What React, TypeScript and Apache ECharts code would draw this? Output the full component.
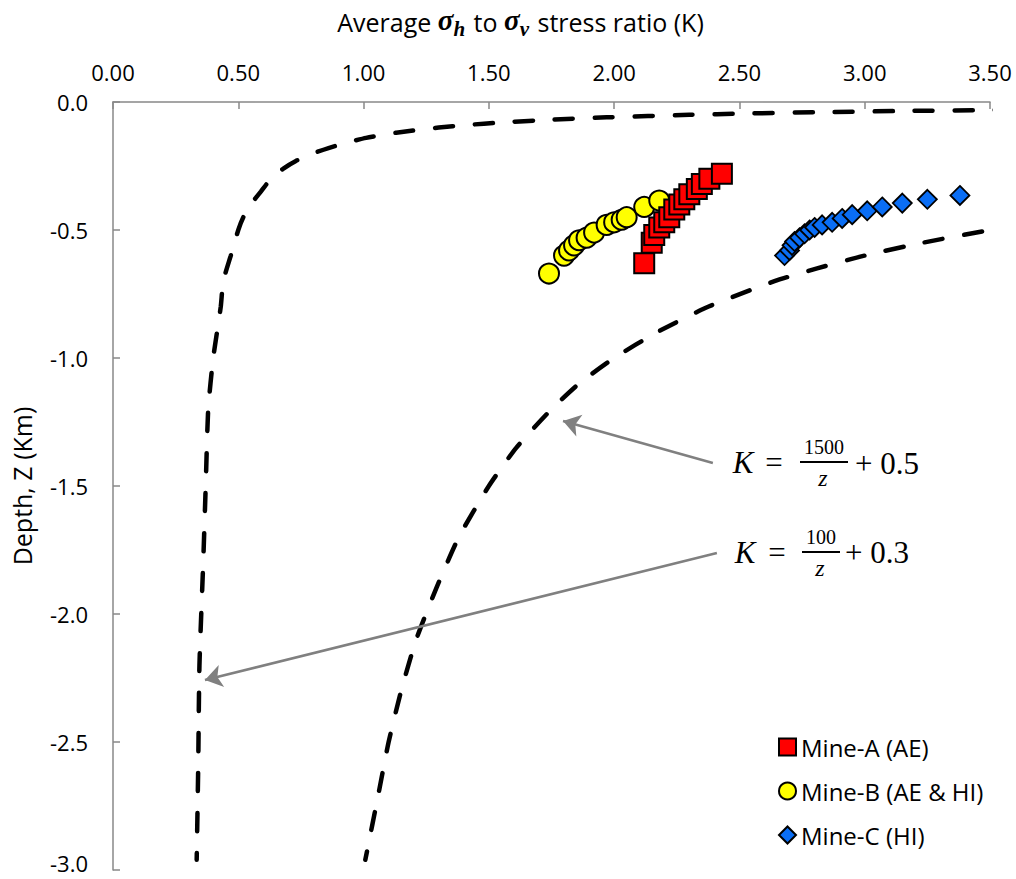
import React, { useEffect, useRef } from "react";
import * as echarts from "echarts";

// Measured stress ratios K (x) against depth Z in km (y, negative downwards)
const mineAK = [2.12, 2.15, 2.16, 2.18, 2.2, 2.22, 2.24, 2.26, 2.28, 2.3, 2.33, 2.35, 2.38, 2.43];
const mineAZ = [-0.63, -0.55, -0.52, -0.49, -0.47, -0.45, -0.42, -0.4, -0.38, -0.36, -0.34, -0.32, -0.3, -0.28];

const mineBK = [1.74, 1.8, 1.82, 1.84, 1.86, 1.89, 1.92, 1.97, 2.0, 2.03, 2.05, 2.12, 2.18];
const mineBZ = [-0.67, -0.6, -0.58, -0.56, -0.54, -0.53, -0.51, -0.48, -0.47, -0.46, -0.45, -0.41, -0.385];

const mineCK = [2.68, 2.7, 2.71, 2.72, 2.74, 2.76, 2.78, 2.8, 2.83, 2.87, 2.91, 2.95, 3.01, 3.07, 3.15, 3.25, 3.38];
const mineCZ = [-0.6, -0.58, -0.56, -0.545, -0.53, -0.515, -0.5, -0.49, -0.48, -0.47, -0.455, -0.44, -0.425, -0.41, -0.395, -0.38, -0.365];

// Lower bound curve, K = 100/z + 0.3
const lowerZ = [-0.029, -0.031, -0.035, -0.04, -0.045, -0.05, -0.06, -0.07, -0.08, -0.09, -0.1, -0.12, -0.14, -0.16, -0.18, -0.2, -0.23, -0.26, -0.3, -0.35, -0.4, -0.45, -0.5, -0.6, -0.7, -0.8, -1.0, -1.2, -1.5, -1.8, -2.2, -2.6, -2.96];
const lowerK = [3.75, 3.53, 3.16, 2.8, 2.52, 2.3, 1.97, 1.73, 1.55, 1.41, 1.3, 1.13, 1.01, 0.93, 0.86, 0.8, 0.73, 0.68, 0.63, 0.59, 0.55, 0.52, 0.5, 0.47, 0.44, 0.43, 0.4, 0.38, 0.37, 0.36, 0.345, 0.34, 0.334];

// Upper bound curve, K = 1500/z + 0.5
const upperZ = [-0.48, -0.5, -0.55, -0.6, -0.65, -0.7, -0.8, -0.9, -1.0, -1.1, -1.2, -1.35, -1.5, -1.7, -1.9, -2.1, -2.3, -2.5, -2.7, -2.96];
const upperK = [3.625, 3.5, 3.23, 3.0, 2.81, 2.64, 2.375, 2.17, 2.0, 1.86, 1.75, 1.61, 1.5, 1.38, 1.29, 1.21, 1.15, 1.1, 1.06, 1.007];

// Arrow annotations: [startK, startZ, tipK, tipZ]
const arrowUpper = [2.394, -1.41, 1.796, -1.246];
const arrowLower = [2.41, -1.762, 0.367, -2.258];

const seriesNames = ["Mine-A (AE)", "Mine-B (AE & HI)", "Mine-C (HI)"];

const pairs = (xs: number[], ys: number[]) => xs.map((x, i) => [x, ys[i]]);

const UI_FONT = "'Open Sans', sans-serif";
const MATH_FONT = "'Liberation Serif', serif";

export default function App() {
  const ref = useRef<HTMLDivElement>(null);

  useEffect(() => {
    if (!ref.current) return;
    const chart = echarts.init(ref.current, undefined, { renderer: "svg" });

    const dashed = {
      color: "#000",
      width: 4.5,
      type: [18, 22] as number[],
      cap: "round" as const,
    };

    const arrowLine = (a: number[]) => [
      { coord: [a[0], a[1]] },
      { coord: [a[2], a[3]] },
    ];

    const mathText = (
      text: string,
      x: number,
      y: number,
      size: number,
      italic: boolean,
      align: string = "center"
    ) => ({
      type: "text",
      x,
      y,
      silent: true,
      style: {
        text,
        font: `${italic ? "italic " : ""}${size}px ${MATH_FONT}`,
        fill: "#000",
        textAlign: align,
        textVerticalAlign: "middle",
      },
    });

    const fractionBar = (x1: number, x2: number, y: number) => ({
      type: "line",
      silent: true,
      shape: { x1, y1: y, x2, y2: y },
      style: { stroke: "#000", lineWidth: 2 },
    });

    chart.setOption({
      animation: false,
      backgroundColor: "#fff",
      grid: {
        left: 113,
        right: 26,
        top: 102,
        bottom: 9,
        containLabel: false,
        outerBoundsMode: "none",
      },
      legend: {
        data: seriesNames,
        orient: "vertical",
        left: 773,
        top: 730,
        itemWidth: 17,
        itemHeight: 17,
        itemGap: 20,
        textStyle: { fontFamily: UI_FONT, fontSize: 24, lineHeight: 20, color: "#000" },
      },
      xAxis: {
        type: "value",
        position: "top",
        min: 0,
        max: 3.5,
        interval: 0.5,
        name: "{t|Average }{s|σ}{sub|h}{t| to }{s|σ}{sub|v}{t| stress ratio (K)}",
        nameLocation: "middle",
        nameGap: 63,
        nameTextStyle: {
          padding: [0, 62, 0, 0],
          rich: {
            t: { fontFamily: UI_FONT, fontSize: 25, color: "#000", verticalAlign: "bottom", padding: [0, 0, 5, 0] },
            s: {
              fontFamily: MATH_FONT,
              fontSize: 29,
              fontStyle: "italic",
              fontWeight: "bold",
              color: "#000",
              verticalAlign: "bottom",
              padding: [0, 0, 5, 0],
            },
            sub: {
              fontFamily: MATH_FONT,
              fontSize: 21,
              fontStyle: "italic",
              fontWeight: "bold",
              color: "#000",
              verticalAlign: "bottom",
              padding: [0, 2, 0, 0],
            },
          },
        },
        axisLine: { show: true, lineStyle: { color: "#888", width: 1.5 } },
        axisTick: { show: true, inside: true, length: 7, lineStyle: { color: "#888", width: 1.5 } },
        axisLabel: {
          fontFamily: UI_FONT,
          fontSize: 22,
          color: "#000",
          margin: 19,
          formatter: (v: number) => v.toFixed(2),
        },
        splitLine: { show: false },
      },
      yAxis: {
        type: "value",
        min: -3,
        max: 0,
        interval: 0.5,
        name: "Depth, Z (Km)",
        nameLocation: "middle",
        nameGap: 78,
        nameTextStyle: { fontFamily: UI_FONT, fontSize: 25, lineHeight: 26, color: "#000" },
        axisLine: { show: true, lineStyle: { color: "#888", width: 1.5 } },
        axisTick: { show: true, inside: true, length: 7, lineStyle: { color: "#888", width: 1.5 } },
        axisLabel: {
          fontFamily: UI_FONT,
          fontSize: 22,
          lineHeight: 16,
          color: "#000",
          margin: 25,
          // the lowest label sits at the page edge, so it is lifted a little
          formatter: (v: number) => (v <= -3 ? `{edge|${v.toFixed(1)}}` : v.toFixed(1)),
          rich: {
            edge: {
              fontFamily: UI_FONT,
              fontSize: 22,
              lineHeight: 16,
              color: "#000",
              padding: [0, 0, 14, 0],
            },
          },
        },
        splitLine: { show: false },
      },
      series: [
        {
          name: "K = 100/z + 0.3",
          type: "line",
          data: pairs(lowerK, lowerZ),
          showSymbol: false,
          smooth: 0.2,
          clip: true,
          lineStyle: dashed,
          z: 1,
          markLine: {
            silent: true,
            symbol: ["none", "arrow"],
            symbolSize: 17,
            label: { show: false },
            lineStyle: { color: "#808080", width: 2.5, type: "solid" },
            data: [arrowLine(arrowUpper), arrowLine(arrowLower)],
          },
        },
        {
          name: "K = 1500/z + 0.5",
          type: "line",
          data: pairs(upperK, upperZ),
          showSymbol: false,
          smooth: 0.2,
          clip: true,
          lineStyle: dashed,
          z: 1,
        },
        {
          name: seriesNames[1],
          type: "scatter",
          data: pairs(mineBK, mineBZ),
          symbol: "circle",
          symbolSize: 20,
          itemStyle: { color: "#FFFF00", borderColor: "#000", borderWidth: 2, opacity: 1 },
          z: 2,
        },
        {
          name: seriesNames[0],
          type: "scatter",
          data: pairs(mineAK, mineAZ),
          symbol: "rect",
          symbolSize: 20,
          itemStyle: { color: "#FF0000", borderColor: "#000", borderWidth: 2, opacity: 1 },
          z: 3,
        },
        {
          name: seriesNames[2],
          type: "scatter",
          data: pairs(mineCK, mineCZ),
          symbol: "diamond",
          symbolSize: 19,
          itemStyle: { color: "#0A6EF5", borderColor: "#000", borderWidth: 1.8, opacity: 1 },
          z: 3,
        },
      ],
      graphic: [
        // K = 1500/z + 0.5
        mathText("K", 743, 462, 31, true),
        mathText("=", 774, 462, 31, false),
        mathText("1500", 824, 447, 20, false),
        fractionBar(800, 848, 462),
        mathText("z", 823, 478, 24, true),
        mathText("+ 0.5", 855, 463, 31, false, "left"),
        // K = 100/z + 0.3
        mathText("K", 745, 552, 31, true),
        mathText("=", 777, 552, 31, false),
        mathText("100", 821, 537, 20, false),
        fractionBar(802, 840, 552),
        mathText("z", 820, 568, 24, true),
        mathText("+ 0.3", 845, 552, 31, false, "left"),
      ],
    });

    return () => chart.dispose();
  }, []);

  return (
    <div
      ref={ref}
      style={{ position: "fixed", left: 0, top: 0, width: 1016, height: 879, background: "#fff" }}
    />
  );
}
